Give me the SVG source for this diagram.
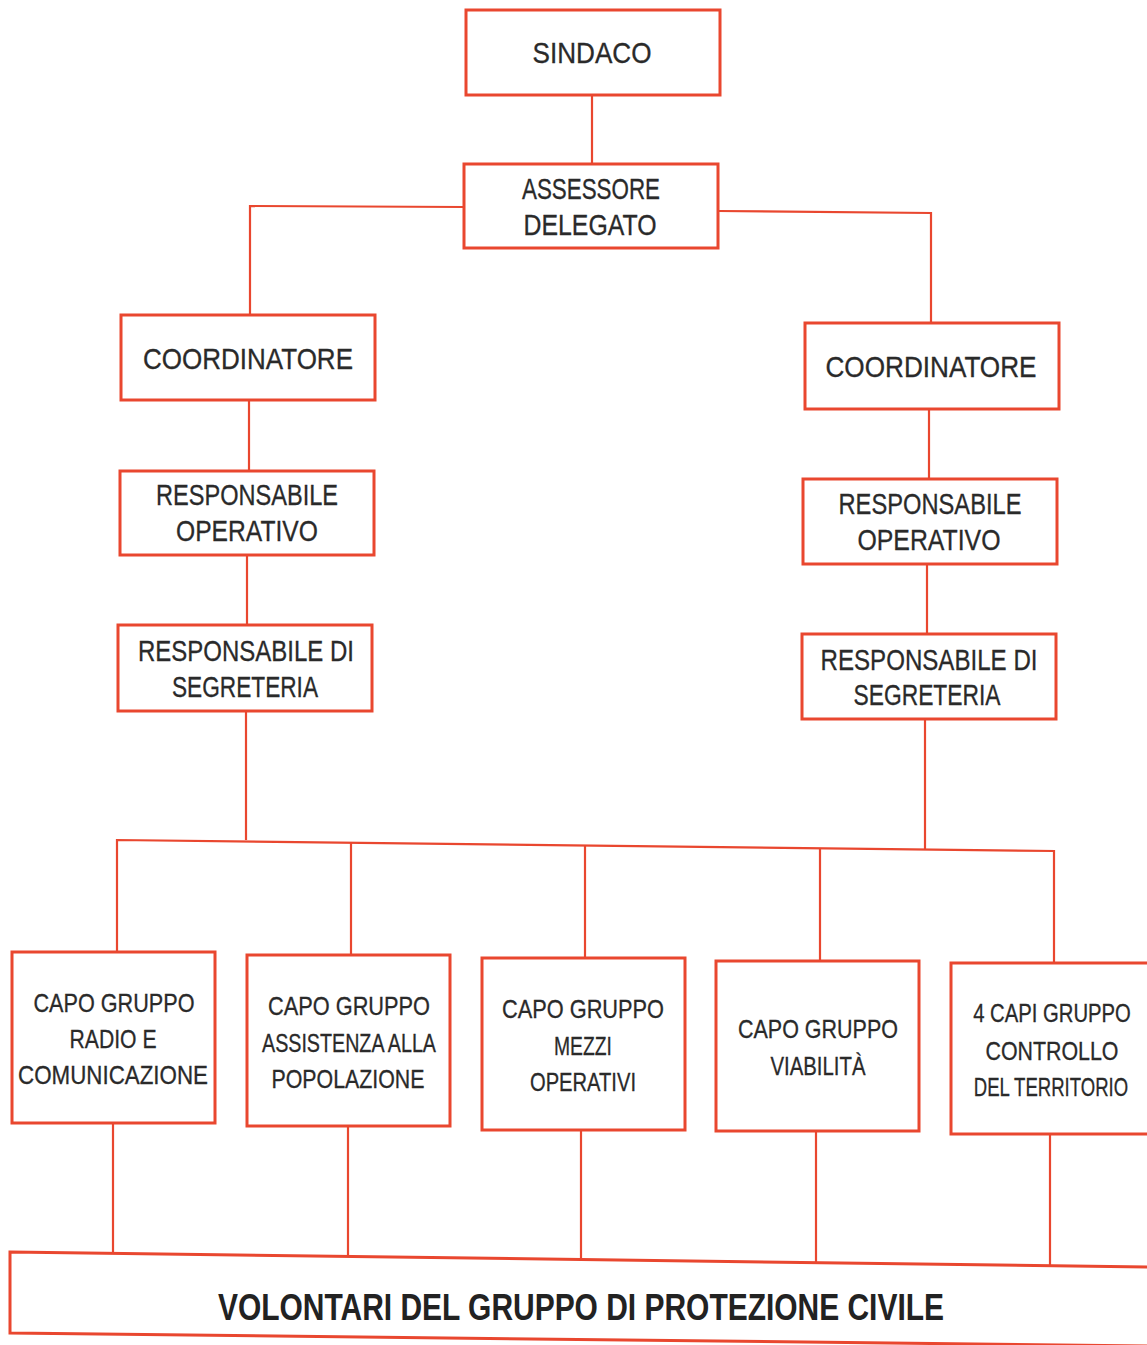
<svg xmlns="http://www.w3.org/2000/svg" width="1147" height="1345" viewBox="0 0 1147 1345">
<style>
.box{fill:#fff;stroke:#e9472f;stroke-width:3}
.ln{fill:none;stroke:#e9472f;stroke-width:2.2}
.t{font-family:"Liberation Sans",Arial,sans-serif;font-size:29px;fill:#2a2a2a;text-anchor:middle;stroke:#2a2a2a;stroke-width:0.3}
.s{font-family:"Liberation Sans",Arial,sans-serif;font-size:26px;fill:#2a2a2a;text-anchor:middle;stroke:#2a2a2a;stroke-width:0.3}
.b{font-family:"Liberation Sans",Arial,sans-serif;font-size:37px;font-weight:bold;fill:#222;text-anchor:middle}
</style>
<rect width="1147" height="1345" fill="#fff"/>
<g id="connectors">
<path class="ln" d="M592 95 V164"/>
<path class="ln" d="M464 207 L250 206 V315"/>
<path class="ln" d="M718 211 L931 213 V323"/>
<path class="ln" d="M249 400 V471"/>
<path class="ln" d="M247 555 V625"/>
<path class="ln" d="M929 409 V479"/>
<path class="ln" d="M927 564 V634"/>
<path class="ln" d="M246 711 V840"/>
<path class="ln" d="M925 719 V849"/>
<path class="ln" d="M117 952 V840 L1054 851 V963"/>
<path class="ln" d="M351 843 V955"/>
<path class="ln" d="M585 846 V958"/>
<path class="ln" d="M820 848 V961"/>
<path class="ln" d="M113 1123 V1253"/>
<path class="ln" d="M348 1126 V1256"/>
<path class="ln" d="M581 1130 V1259"/>
<path class="ln" d="M816 1131 V1262"/>
<path class="ln" d="M1050 1134 V1265"/>
</g>
<g id="sindaco"><rect class="box" x="466" y="10" width="254" height="85"/><text class="t" x="592" y="63" textLength="119" lengthAdjust="spacingAndGlyphs">SINDACO</text></g>
<g id="assessore"><rect class="box" x="464" y="164" width="254" height="84"/><text class="t" x="591" y="199" textLength="138" lengthAdjust="spacingAndGlyphs">ASSESSORE</text><text class="t" x="590" y="235" textLength="133" lengthAdjust="spacingAndGlyphs">DELEGATO</text></g>
<g id="coord-l"><rect class="box" x="121" y="315" width="254" height="85"/><text class="t" x="248" y="369" textLength="210" lengthAdjust="spacingAndGlyphs">COORDINATORE</text></g>
<g id="coord-r"><rect class="box" x="805" y="323" width="254" height="86"/><text class="t" x="931" y="377" textLength="211" lengthAdjust="spacingAndGlyphs">COORDINATORE</text></g>
<g id="resp-op-l"><rect class="box" x="120" y="471" width="254" height="84"/><text class="t" x="247" y="505" textLength="182" lengthAdjust="spacingAndGlyphs">RESPONSABILE</text><text class="t" x="247" y="541" textLength="142" lengthAdjust="spacingAndGlyphs">OPERATIVO</text></g>
<g id="resp-op-r"><rect class="box" x="803" y="479" width="254" height="85"/><text class="t" x="930" y="514" textLength="183" lengthAdjust="spacingAndGlyphs">RESPONSABILE</text><text class="t" x="929" y="550" textLength="143" lengthAdjust="spacingAndGlyphs">OPERATIVO</text></g>
<g id="resp-seg-l"><rect class="box" x="118" y="625" width="254" height="86"/><text class="t" x="246" y="661" textLength="216" lengthAdjust="spacingAndGlyphs">RESPONSABILE DI</text><text class="t" x="245" y="697" textLength="146" lengthAdjust="spacingAndGlyphs">SEGRETERIA</text></g>
<g id="resp-seg-r"><rect class="box" x="802" y="634" width="254" height="85"/><text class="t" x="929" y="670" textLength="217" lengthAdjust="spacingAndGlyphs">RESPONSABILE DI</text><text class="t" x="927" y="705" textLength="147" lengthAdjust="spacingAndGlyphs">SEGRETERIA</text></g>
<g id="capo-radio"><rect class="box" x="12" y="952" width="203" height="171"/><text class="s" x="114" y="1012" textLength="161" lengthAdjust="spacingAndGlyphs">CAPO GRUPPO</text><text class="s" x="113" y="1048" textLength="87" lengthAdjust="spacingAndGlyphs">RADIO E</text><text class="s" x="113" y="1084" textLength="190" lengthAdjust="spacingAndGlyphs">COMUNICAZIONE</text></g>
<g id="capo-assistenza"><rect class="box" x="247" y="955" width="203" height="171"/><text class="s" x="349" y="1015" textLength="162" lengthAdjust="spacingAndGlyphs">CAPO GRUPPO</text><text class="s" x="349" y="1052" textLength="174" lengthAdjust="spacingAndGlyphs">ASSISTENZA ALLA</text><text class="s" x="348" y="1088" textLength="153" lengthAdjust="spacingAndGlyphs">POPOLAZIONE</text></g>
<g id="capo-mezzi"><rect class="box" x="482" y="958" width="203" height="172"/><text class="s" x="583" y="1018" textLength="162" lengthAdjust="spacingAndGlyphs">CAPO GRUPPO</text><text class="s" x="583" y="1055" textLength="58" lengthAdjust="spacingAndGlyphs">MEZZI</text><text class="s" x="583" y="1091" textLength="106" lengthAdjust="spacingAndGlyphs">OPERATIVI</text></g>
<g id="capo-viabilita"><rect class="box" x="716" y="961" width="203" height="170"/><text class="s" x="818" y="1038" textLength="160" lengthAdjust="spacingAndGlyphs">CAPO GRUPPO</text><text class="s" x="818" y="1075" textLength="95" lengthAdjust="spacingAndGlyphs">VIABILITÀ</text></g>
<g id="capi-controllo"><rect class="box" x="951" y="963" width="200" height="171"/><text class="s" transform="translate(1052 1022) scale(0.78 1)">4 CAPI GRUPPO</text><text class="s" x="1052" y="1060" textLength="133" lengthAdjust="spacingAndGlyphs">CONTROLLO</text><text class="s" transform="translate(1051 1096) scale(0.714 1)">DEL TERRITORIO</text></g>
<g id="volontari"><path class="box" d="M10 1252 L1150 1267 L1150 1346 L10 1333 Z"/><text class="b" x="581" y="1320" textLength="726" lengthAdjust="spacingAndGlyphs">VOLONTARI DEL GRUPPO DI PROTEZIONE CIVILE</text></g>
</svg>
